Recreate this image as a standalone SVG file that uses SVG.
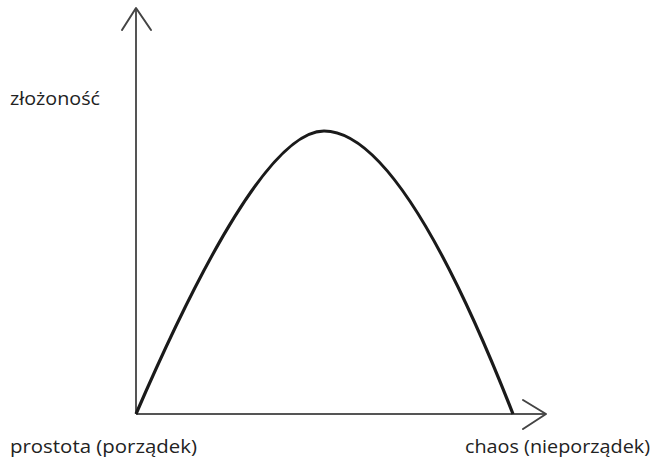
<svg xmlns="http://www.w3.org/2000/svg" width="654" height="462" viewBox="0 0 654 462">
<style>
.axis{stroke:#555;stroke-width:2;fill:none}
.head{stroke:#444;stroke-width:2;fill:none;stroke-linecap:round;stroke-linejoin:round}
.curve{stroke:#1a1a1a;stroke-width:3.2;fill:none}
text{font-family:"Open Sans","Liberation Sans",sans-serif;font-size:19px;fill:#222}
</style>
<rect width="654" height="462" fill="#fff"/>
<g id="connectors">
<line class="axis" x1="136" y1="414" x2="136" y2="9"/>
<polyline class="head" points="122,30 136,8 151,30"/>
<line class="axis" x1="136" y1="414" x2="545" y2="414"/>
<polyline class="head" points="523,400 546,414 523,429"/>
<path class="curve" d="M136,414 Q258.5,131 324,131 Q402,131 513,414"/>
</g>
<g id="label-y"><text x="10" y="105" textLength="90" lengthAdjust="spacingAndGlyphs">złożoność</text></g>
<g id="label-origin"><text x="10" y="453" textLength="187" lengthAdjust="spacingAndGlyphs">prostota (porządek)</text></g>
<g id="label-x"><text x="465" y="453" textLength="185" lengthAdjust="spacingAndGlyphs">chaos (nieporządek)</text></g>
</svg>
